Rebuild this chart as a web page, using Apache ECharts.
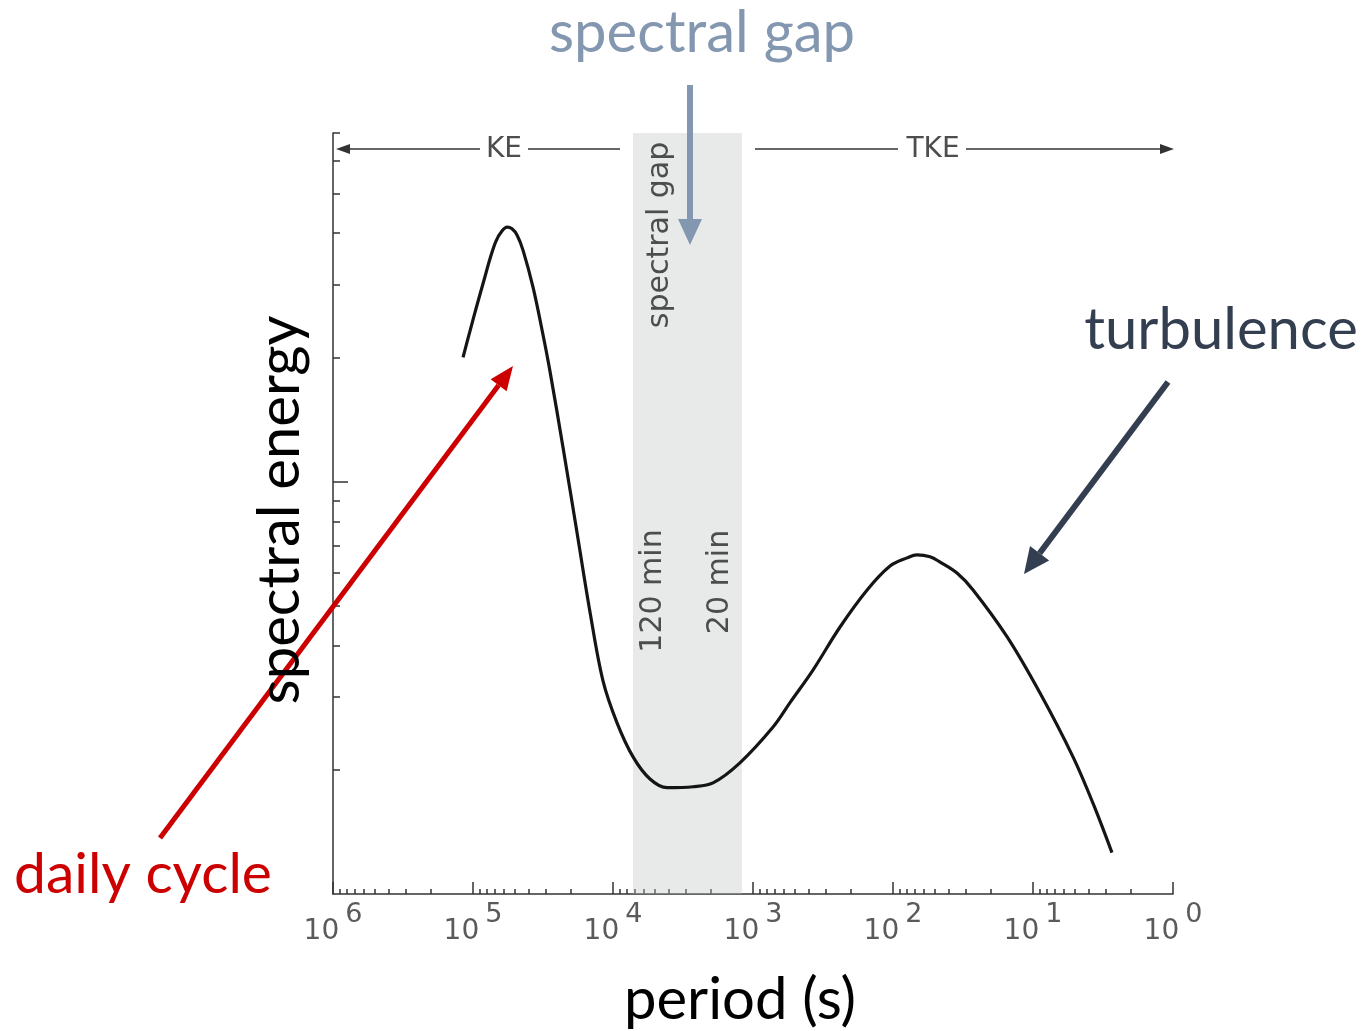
<!DOCTYPE html>
<html>
<head>
<meta charset="utf-8">
<title>spectral gap</title>
<script src="https://cdn.jsdelivr.net/npm/echarts@6/dist/echarts.min.js"></script>
<style>
  html, body { margin: 0; padding: 0; background: #fff; }
  #chart { width: 1367px; height: 1031px; }
</style>
</head>
<body>
<div id="chart"></div>
<script>
// period in seconds (axis runs from 10^6 on the left to 10^0 on the right)
var periods = [117800, 105000, 93600, 83400, 75600, 68500, 62100, 57100, 52650, 48500,
               43950, 37270, 31620, 28180, 22750, 18100, 14600, 11800, 9360, 7190,
               5440, 4110, 2680, 1930, 1240, 719, 544, 373, 239, 153,
               105, 79.4, 67.4, 54.4, 46.1, 34.9, 26.8, 15.3, 8.91, 5.18,
               3.73, 2.73];
var energy = [20.0, 23.2, 26.8, 30.8, 34.7, 38.3, 40.5, 41.4, 41.0, 39.6,
              36.4, 29.6, 22.7, 18.5, 12.1, 7.55, 4.83, 3.29, 2.60, 2.15,
              1.90, 1.81, 1.82, 1.86, 2.08, 2.54, 2.91, 3.49, 4.44, 5.46,
              6.24, 6.53, 6.64, 6.57, 6.38, 6.00, 5.46, 4.20, 3.07, 2.15,
              1.66, 1.26];
// spectral gap band: 120 min .. 20 min
var gapBand = [7200, 1200];
var periodDecades = [1, 10, 100, 1000, 10000, 100000];
var minorMantissa = [2, 3, 4, 5, 6, 7, 8, 9];
var energyMajorTicks = [10];
var energyMinorTicks = [2, 3, 4, 5, 6, 7, 8, 9, 20, 30, 40, 50, 60, 70];

var periodMinorTicks = [];
periodDecades.forEach(function (d) {
    minorMantissa.forEach(function (m) { periodMinorTicks.push(m * d); });
});

var curve = [];
for (var i = 0; i < periods.length; i++) {
    curve.push([periods[i], energy[i]]);
}

var scanInk = '#333';
var scanText = '#4d4d4d';
var slideFont = 'Lato';
var scanFont = 'DejaVu Sans';

function arrow(x1, y1, x2, y2, color, width, headLen, headWidth) {
    var ang = Math.atan2(y2 - y1, x2 - x1);
    var bx = x2 - headLen * Math.cos(ang);
    var by = y2 - headLen * Math.sin(ang);
    var nx = -Math.sin(ang) * headWidth / 2;
    var ny = Math.cos(ang) * headWidth / 2;
    return [
        { type: 'line', z: 100, shape: { x1: x1, y1: y1, x2: bx, y2: by },
          style: { stroke: color, lineWidth: width } },
        { type: 'polygon', z: 100, shape: { points: [[x2, y2], [bx + nx, by + ny], [bx - nx, by - ny]] },
          style: { fill: color } }
    ];
}

function label(text, x, y, size, color, font, rotate) {
    return {
        type: 'text', z: 100, x: x, y: y, rotation: rotate ? Math.PI / 2 : 0,
        style: { text: text, fontSize: size, fontFamily: font, fill: color,
                 align: 'center', verticalAlign: 'middle' }
    };
}

var graphics = []
    .concat(arrow(690, 85, 690, 245, '#8497b0', 6, 26, 24))
    .concat(arrow(160, 838, 513, 366, '#cc0000', 5, 24, 20))
    .concat(arrow(1168, 382, 1024, 574, '#333f50', 6, 26, 24))
    .concat(arrow(480, 149, 336, 149, scanInk, 1.5, 14, 10))
    .concat(arrow(966, 149, 1174, 149, scanInk, 1.5, 14, 10))
    .concat([
        { type: 'line', z: 100, shape: { x1: 528, y1: 149, x2: 620, y2: 149 }, style: { stroke: scanInk, lineWidth: 1.5 } },
        { type: 'line', z: 100, shape: { x1: 755, y1: 149, x2: 898, y2: 149 }, style: { stroke: scanInk, lineWidth: 1.5 } },
        label('KE', 504, 150, 28, scanText, scanFont),
        label('TKE', 933, 150, 28, scanText, scanFont),
        label('spectral gap', 660, 235, 30, scanText, scanFont, true),
        label('120 min', 653, 591, 30, scanText, scanFont, true),
        label('20 min', 720, 582, 30, scanText, scanFont, true),
        label('spectral gap', 702, 33, 58, '#8497b0', slideFont),
        label('turbulence', 1221, 330, 58, '#333f50', slideFont),
        label('daily cycle', 143, 875, 57, '#cc0000', slideFont),
        label('spectral energy', 280, 510, 58, '#000', slideFont, true),
        label('period (s)', 740, 1000, 58, '#000', slideFont)
    ]);

var myChart = echarts.init(document.getElementById('chart'));
var option = {
    animation: false,
    grid: { left: 333, right: 194, top: 133, bottom: 137 },
    xAxis: [
        {
            type: 'log', min: 1, max: 1e6, inverse: true, position: 'bottom',
            axisLine: { lineStyle: { color: scanInk, width: 1.5 } },
            axisTick: { inside: true, length: 12, lineStyle: { color: scanInk, width: 1.5 } },
            splitLine: { show: false },
            axisLabel: {
                margin: 7,
                formatter: function (v) {
                    return '{b|10}{s|' + Math.round(Math.log10(v)) + '}';
                },
                rich: {
                    b: { fontSize: 28, fontFamily: scanFont, color: '#5a5a5a', lineHeight: 28, verticalAlign: 'bottom' },
                    s: { fontSize: 27, fontFamily: scanFont, color: '#5a5a5a', verticalAlign: 'top', padding: [0, 0, 18, 6] }
                }
            }
        },
        {
            type: 'log', min: 1, max: 1e6, inverse: true, position: 'bottom',
            axisLine: { show: false },
            axisLabel: { show: false },
            splitLine: { show: false },
            axisTick: { inside: true, length: 5, customValues: periodMinorTicks, lineStyle: { color: scanInk, width: 1.5 } }
        }
    ],
    yAxis: [
        {
            type: 'log', min: 1, max: 70, position: 'left',
            axisLine: { lineStyle: { color: scanInk, width: 1.5 } },
            axisTick: { inside: true, length: 15, customValues: energyMajorTicks, lineStyle: { color: scanInk, width: 1.5 } },
            axisLabel: { show: false },
            splitLine: { show: false }
        },
        {
            type: 'log', min: 1, max: 70, position: 'left',
            axisLine: { show: false },
            axisTick: { inside: true, length: 7, customValues: energyMinorTicks, lineStyle: { color: scanInk, width: 1.5 } },
            axisLabel: { show: false },
            splitLine: { show: false }
        }
    ],
    series: [
        {
            name: 'spectral energy',
            type: 'line',
            xAxisIndex: 0,
            yAxisIndex: 0,
            data: curve,
            smooth: 0.35,
            showSymbol: false,
            lineStyle: { color: '#151515', width: 3.2 },
            markArea: {
                silent: true,
                itemStyle: { color: 'rgba(190,196,196,0.36)' },
                data: [[{ xAxis: gapBand[0] }, { xAxis: gapBand[1] }]]
            }
        }
    ],
    graphic: graphics
};
myChart.setOption(option);
</script>
</body>
</html>
